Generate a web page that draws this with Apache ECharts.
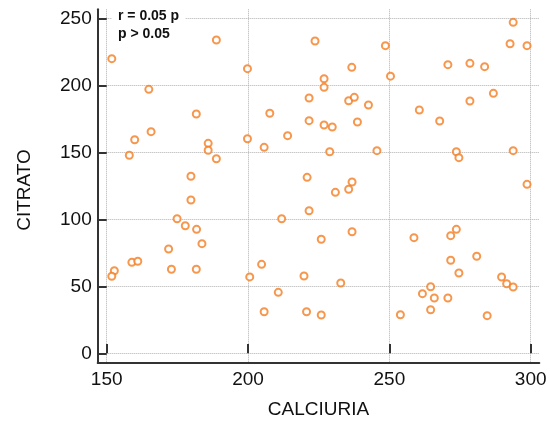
<!DOCTYPE html>
<html>
<head>
<meta charset="utf-8">
<script src="https://cdn.jsdelivr.net/npm/echarts@6/dist/echarts.min.js"></script>
<style>html,body{margin:0;padding:0;background:#fff}#c{width:550px;height:423px}</style>
</head>
<body>
<div id="c"></div>
<script>
const xTicks = [150, 200, 250, 300];
const yTicks = [0, 50, 100, 150, 200, 250];
const annotation = ["r = 0.05 p", "p > 0.05"];
const xTitle = "CALCIURIA";
const yTitle = "CITRATO";
const calciuria = [151.8,188.8,199.8,164.9,181.7,165.7,159.9,185.9,185.9,199.8,158.0,188.8,179.8,179.8,174.9,177.8,181.8,183.7,171.9,158.9,161.0,172.9,181.7,152.7,151.8,200.6,
  223.7,248.6,236.7,250.4,226.9,226.9,221.6,235.6,237.6,242.6,207.7,221.6,226.9,229.8,238.7,214.0,205.7,228.9,245.6,220.9,236.8,235.6,230.9,221.6,211.9,236.8,225.9,204.8,219.8,232.8,210.7,205.7,220.7,225.9,
  293.8,292.7,298.7,270.7,278.5,283.7,286.8,278.5,260.6,267.8,273.7,274.6,293.8,298.7,273.7,271.7,258.7,271.7,280.9,274.6,289.7,291.5,293.8,264.6,261.7,265.9,270.7,264.6,253.9,284.6];
const citrato = [219.9,233.8,212.4,197.0,178.6,165.4,159.4,156.7,151.5,160.1,147.8,145.2,132.1,114.4,100.4,95.2,92.5,81.8,77.8,67.9,68.7,62.7,62.7,61.6,57.5,57.0,
  233.1,229.6,213.4,206.8,204.9,198.5,190.5,188.5,191.0,185.3,179.1,173.6,170.4,168.9,172.6,162.4,153.7,150.4,151.2,131.3,127.8,122.4,120.1,106.4,100.4,90.7,85.1,66.4,57.7,52.5,45.5,31.0,31.0,28.6,
  247.0,231.0,229.6,215.4,216.4,213.9,194.0,188.3,181.6,173.4,150.4,146.0,151.2,126.1,92.5,87.8,86.3,69.4,72.4,59.9,56.9,51.9,49.5,49.7,44.5,41.3,41.3,32.5,28.8,28.1];

const points = calciuria.map((x, i) => [x, citrato[i]]);
const xMin = xTicks[0], xMax = xTicks[xTicks.length - 1];
const yMin = yTicks[0], yMax = yTicks[yTicks.length - 1];
const xStep = xTicks[1] - xTicks[0], yStep = yTicks[1] - yTicks[0];

const FONT = "Liberation Sans, Arial, sans-serif";
const AX = '#333333';
const GRIDC = '#b0b0b0';
const ORANGE = '#f47d20';

const pxPerX = (530.7 - 106.7) / (xMax - xMin);
const pxPerY = (353.3 - 18.3) / (yMax - yMin);

const chart = echarts.init(document.getElementById('c'), null, {renderer: 'canvas'});
chart.setOption({
  animation: false,
  backgroundColor: '#ffffff',
  title: {
    text: annotation.join('\n'),
    left: 112, top: 4,
    padding: [3, 6, 3, 6],
    backgroundColor: '#ffffff',
    textStyle: {fontFamily: FONT, fontSize: 14, fontWeight: 'bold', color: '#111', lineHeight: 18}
  },
  grid: [
    {left: 106.7, right: 19.3, top: 18.3, bottom: 69.7, containLabel: false, outerBoundsMode: 'none'},
    {left: 97.7, right: 10.7, top: 9.3, bottom: 60.3, containLabel: false, outerBoundsMode: 'none'}
  ],
  xAxis: [
    {
      gridIndex: 0, type: 'value', min: xMin, max: xMax, interval: xStep,
      offset: 9.4,
      axisLine: {show: false},
      axisTick: {show: true, inside: true, length: 9.4, lineStyle: {color: AX, width: 2}},
      axisLabel: {fontFamily: FONT, fontSize: 19, color: '#111', margin: 8},
      splitLine: {show: false}
    },
    {
      gridIndex: 1, type: 'value',
      min: xMin - 9 / pxPerX, max: xMax + 8.6 / pxPerX, splitNumber: 3,
      axisLine: {show: true, onZero: false, lineStyle: {color: AX, width: 2}},
      axisTick: {show: false},
      axisLabel: {show: false},
      splitLine: {show: true, showMinLine: false, showMaxLine: false, lineStyle: {color: GRIDC, type: 'dotted', width: 1}},
      name: xTitle, nameLocation: 'middle', nameGap: 38,
      nameTextStyle: {fontFamily: FONT, fontSize: 19, color: '#111'}
    }
  ],
  yAxis: [
    {
      gridIndex: 0, type: 'value', min: yMin, max: yMax, interval: yStep,
      offset: 9,
      axisLine: {show: false},
      axisTick: {show: true, inside: true, length: 9, lineStyle: {color: AX, width: 2}},
      axisLabel: {fontFamily: FONT, fontSize: 19, color: '#111', margin: 6},
      splitLine: {show: false}
    },
    {
      gridIndex: 1, type: 'value',
      min: yMin - 9.4 / pxPerY, max: yMax + 9 / pxPerY, splitNumber: 5,
      axisLine: {show: true, onZero: false, lineStyle: {color: AX, width: 2}},
      axisTick: {show: false},
      axisLabel: {show: false},
      splitLine: {show: true, showMinLine: false, showMaxLine: false, lineStyle: {color: GRIDC, type: 'dotted', width: 1}},
      name: yTitle, nameLocation: 'middle', nameGap: 63, nameRotate: 90,
      nameTextStyle: {fontFamily: FONT, fontSize: 19, color: '#111', padding: [0, 8, 0, 0]}
    }
  ],
  series: [{
    type: 'scatter',
    xAxisIndex: 0, yAxisIndex: 0,
    data: points,
    symbol: 'emptyCircle',
    symbolSize: 7,
    itemStyle: {color: ORANGE, borderColor: ORANGE, borderWidth: 1.4},
    z: 5
  }]
});
</script>
</body>
</html>
